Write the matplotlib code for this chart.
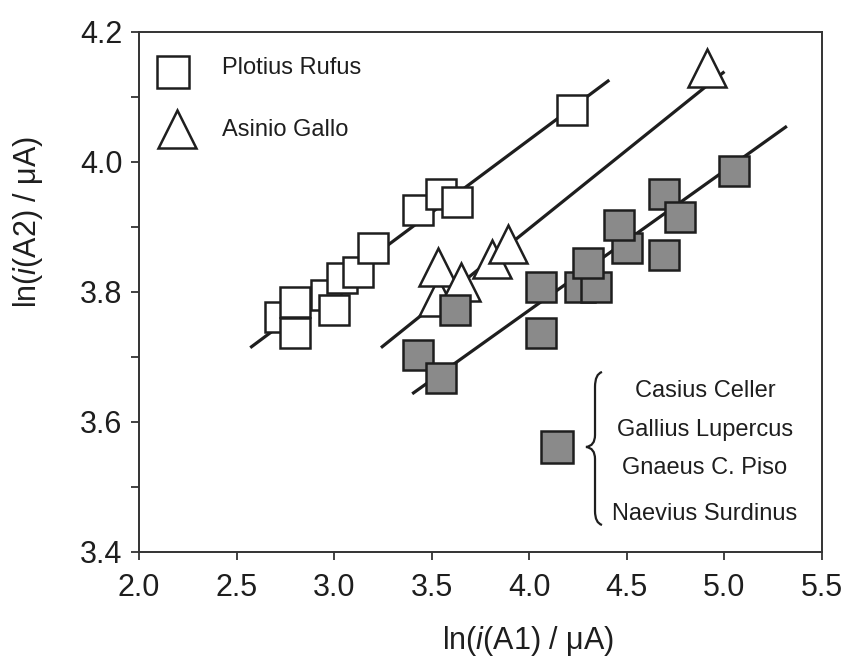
from matplotlib import pyplot as plt
from matplotlib.path import Path
from matplotlib.patches import PathPatch
from matplotlib.ticker import MultipleLocator, FormatStrFormatter

plt.rcParams['font.family'] = ['Liberation Sans', 'DejaVu Sans']
plt.rcParams['mathtext.fontset'] = 'custom'
plt.rcParams['mathtext.rm'] = 'Liberation Sans'
plt.rcParams['mathtext.it'] = 'Liberation Sans:italic'

# ln(i) values for each site
rufus_x = [2.72, 2.80, 2.80, 2.96, 3.00, 3.04, 3.12, 3.20, 3.43, 3.55, 3.63, 4.22]
rufus_y = [3.762, 3.737, 3.785, 3.795, 3.772, 3.822, 3.831, 3.867, 3.926, 3.950, 3.938, 4.080]

gallo_x = [3.53, 3.53, 3.65, 3.81, 3.89, 4.91]
gallo_y = [3.792, 3.838, 3.815, 3.851, 3.874, 4.145]

group_x = [3.43, 3.55, 3.62, 4.06, 4.06, 4.26, 4.34, 4.30, 4.50, 4.46, 4.69, 4.69, 4.77, 5.05]
group_y = [3.702, 3.667, 3.772, 3.737, 3.808, 3.808, 3.808, 3.844, 3.867, 3.903, 3.856, 3.950, 3.915, 3.986]

# fitted lines (end points)
rufus_fit_x = [2.57, 4.41]
rufus_fit_y = [3.714, 4.126]
gallo_fit_x = [3.24, 5.00]
gallo_fit_y = [3.714, 4.139]
group_fit_x = [3.40, 5.32]
group_fit_y = [3.643, 4.055]

group_names = ['Casius Celler', 'Gallius Lupercus', 'Gnaeus C. Piso', 'Naevius Surdinus']

gray = '#8a8a8a'
dark = '#1e1e1e'
ms_sq = 22
ms_tri = 27.5

fig = plt.figure(figsize=(8.43, 6.61), dpi=100)
ax = fig.add_axes([0.1649, 0.1654, 0.8102, 0.7862])

for fx, fy in [(rufus_fit_x, rufus_fit_y), (gallo_fit_x, gallo_fit_y), (group_fit_x, group_fit_y)]:
    ax.plot(fx, fy, color=dark, lw=2.3, solid_capstyle='butt', zorder=1)

ax.plot(rufus_x, rufus_y, 's', ms=ms_sq, mfc='white', mec=dark, mew=1.8, zorder=2)
ax.plot(gallo_x, gallo_y, '^', ms=ms_tri, mfc='white', mec=dark, mew=1.8, zorder=2)
ax.plot(group_x, group_y, 's', ms=ms_sq, mfc=gray, mec=dark, mew=1.8, zorder=3)

# legend, top left
ax.plot([0.0498], [0.9234], 's', ms=ms_sq + 0.5, mfc='white', mec=dark, mew=1.8, transform=ax.transAxes)
ax.plot([0.0552], [0.8134], '^', ms=ms_tri, mfc='white', mec=dark, mew=1.8, transform=ax.transAxes)
ax.text(0.121, 0.9307, 'Plotius Rufus', transform=ax.transAxes, fontsize=17, va='center', color=dark)
ax.text(0.121, 0.8115, 'Asinio Gallo', transform=ax.transAxes, fontsize=17, va='center', color=dark)

# legend for the grouped sites, with a brace
ax.plot([0.612], [0.2015], 's', ms=ms_sq + 0.5, mfc=gray, mec=dark, mew=1.8, transform=ax.transAxes)

def px(x, y):
    return ((x - 139) / 683, (551.7 - y) / 519.7)

verts = [px(602, 372), px(595, 374), px(595, 387), px(595, 435),
         px(595, 446), px(586, 447), px(595, 448), px(595, 459),
         px(595, 511), px(595, 523), px(602, 525)]
codes = [Path.MOVETO, Path.CURVE3, Path.CURVE3, Path.LINETO,
         Path.CURVE3, Path.CURVE3, Path.CURVE3, Path.CURVE3,
         Path.LINETO, Path.CURVE3, Path.CURVE3]
ax.add_patch(PathPatch(Path(verts, codes), fill=False, lw=1.6, ec=dark, transform=ax.transAxes))

for name, yy in zip(group_names, [0.3083, 0.2346, 0.1615, 0.0725]):
    ax.text(0.8287, yy, name, transform=ax.transAxes, fontsize=17, ha='center', va='center', color=dark)

ax.set_xlim(2.0, 5.5)
ax.set_ylim(3.4, 4.2)
ax.xaxis.set_major_locator(MultipleLocator(0.5))
ax.yaxis.set_major_locator(MultipleLocator(0.2))
ax.yaxis.set_minor_locator(MultipleLocator(0.1))
ax.xaxis.set_major_formatter(FormatStrFormatter('%.1f'))
ax.yaxis.set_major_formatter(FormatStrFormatter('%.1f'))
ax.tick_params(axis='both', which='both', direction='out', length=6, width=1.3, color='#333333',
               labelsize=22, labelcolor=dark)
ax.tick_params(axis='y', which='both', pad=6)
ax.tick_params(axis='x', which='both', pad=9)
for s in ax.spines.values():
    s.set_linewidth(1.4)
    s.set_color('#333333')

ax.set_xlabel(r'ln($\mathit{i}$(A1) / μA)', fontsize=22, color=dark)
ax.set_ylabel(r'ln($\mathit{i}$(A2) / μA)', fontsize=22, color=dark)
ax.xaxis.set_label_coords(0.5695, -0.172)
ax.xaxis.label.set_va('center')
ax.yaxis.set_label_coords(-0.1625, 0.634)
ax.yaxis.label.set_va('center')

fig.savefig('out.png', dpi=100)
